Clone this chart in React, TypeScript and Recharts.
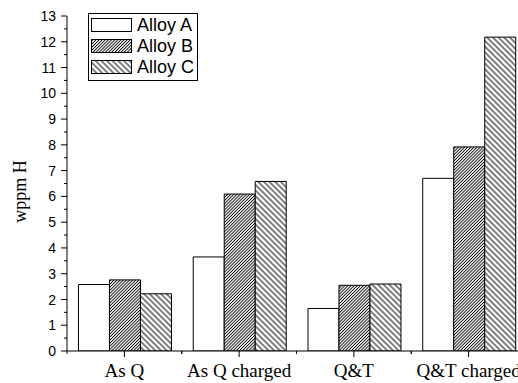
import React from 'react';
import { BarChart, Bar, XAxis, YAxis, Legend } from 'recharts';

const categories = ['As Q', 'As Q charged', 'Q&T', 'Q&T charged'];
const alloyA = [2.58, 3.65, 1.65, 6.7];
const alloyB = [2.76, 6.09, 2.55, 7.92];
const alloyC = [2.22, 6.58, 2.6, 12.18];
const seriesNames = ['Alloy A', 'Alloy B', 'Alloy C'];
const yTicks = [0, 0.5, 1, 1.5, 2, 2.5, 3, 3.5, 4, 4.5, 5, 5.5, 6, 6.5, 7, 7.5, 8, 8.5, 9, 9.5, 10, 10.5, 11, 11.5, 12, 12.5, 13];
const yLabel = 'wppm H';

const data = categories.map((c, i) => ({ name: c, A: alloyA[i], B: alloyB[i], C: alloyC[i] }));

const fills: Record<string, string> = { A: '#ffffff', B: 'url(#patB)', C: 'url(#patC)' };

const serif = "'Liberation Serif', 'Times New Roman', serif";
const sans = "'Liberation Sans', Arial, sans-serif";

const XTick = (props: any) => {
  const { x, y, payload } = props;
  const half = payload && payload.offset ? payload.offset : 0;
  return (
    <g>
      <line x1={x} x2={x} y1={y} y2={y + 6} stroke="#000" />
      <line x1={x - half} x2={x - half} y1={y} y2={y + 3} stroke="#000" />
      <line x1={x + half} x2={x + half} y1={y} y2={y + 3} stroke="#000" />
      <text x={x} y={y + 26} textAnchor="middle" fontFamily={serif} fontSize={19} fill="#000">
        {payload.value}
      </text>
    </g>
  );
};

const YTick = (props: any) => {
  const { x, y, payload } = props;
  const v = payload.value;
  const major = Number.isInteger(v);
  return (
    <g>
      <line x1={x - (major ? 6 : 3)} x2={x} y1={y} y2={y} stroke="#000" />
      {major && (
        <text x={x - 11} y={y} dy="0.36em" textAnchor="end" fontFamily={sans} fontSize={14} fill="#000">
          {v}
        </text>
      )}
    </g>
  );
};

const renderLegend = (props: any) => {
  const payload = props.payload || [];
  return (
    <div style={{ border: '1px solid #000', width: 108, height: 65, background: '#fff', paddingTop: 1, boxSizing: 'content-box' }}>
      {payload.map((p: any, i: number) => (
        <div key={i} style={{ height: 21, display: 'flex', alignItems: 'center' }}>
          <svg width={44} height={21} style={{ display: 'block' }}>
            <rect x={2.5} y={3.5} width={40} height={13} fill={fills[p.dataKey] || '#fff'} stroke="#000" strokeWidth={1} />
          </svg>
          <span style={{ fontFamily: sans, fontSize: 18, marginLeft: 4, lineHeight: '21px', color: '#000' }}>{p.value}</span>
        </div>
      ))}
    </div>
  );
};

const YLabel = (props: any) => {
  const vb = props.viewBox || {};
  const cy = (vb.y || 0) + (vb.height || 0) / 2 + 8;
  return (
    <text x={18} y={cy} transform={`rotate(-90, 18, ${cy})`} textAnchor="middle" fontFamily={serif} fontSize={18} fill="#000">
      {yLabel}
    </text>
  );
};

export default function App() {
  return (
    <div style={{ width: 518, height: 383, overflow: 'hidden', position: 'relative', background: '#fff' }}>
      <style>{'html,body{margin:0;padding:0;overflow:hidden;}'}</style>
      <svg width={0} height={0} style={{ position: 'absolute' }}>
        <defs>
          <pattern id="patB" patternUnits="userSpaceOnUse" width={2.2} height={2.2} patternTransform="rotate(45)">
            <rect x={0} y={0} width={2.2} height={2.2} fill="#fff" />
            <line x1={1.1} y1={0} x2={1.1} y2={2.2} stroke="#000" strokeWidth={0.9} />
          </pattern>
          <pattern id="patC" patternUnits="userSpaceOnUse" width={4} height={4} patternTransform="rotate(-45)">
            <rect x={0} y={0} width={4} height={4} fill="#fff" />
            <line x1={2} y1={0} x2={2} y2={4} stroke="#000" strokeWidth={1} />
          </pattern>
        </defs>
      </svg>
      <div style={{ position: 'absolute', left: 8, top: 8 }}>
        <BarChart
          width={530}
          height={375}
          data={data}
          margin={{ top: 8, right: 12, left: 0, bottom: 0 }}
          barCategoryGap="10%"
          barGap={0}
        >
          <XAxis
            dataKey="name"
            height={32}
            tickSize={0}
            tickMargin={0}
            tickLine={false}
            axisLine={{ stroke: '#000' }}
            tick={<XTick />}
            interval={0}
          />
          <YAxis
            domain={[0, 13]}
            ticks={yTicks}
            interval={0}
            width={59}
            tickSize={0}
            tickMargin={0}
            tickLine={false}
            axisLine={{ stroke: '#000' }}
            tick={<YTick />}
            allowDataOverflow
            label={<YLabel />}
          />
          <Legend
            layout="vertical"
            align="center"
            verticalAlign="middle"
            content={renderLegend}
            wrapperStyle={{ left: 80, top: 5, width: 110, height: 67 }}
          />
          <Bar dataKey="A" name={seriesNames[0]} fill={fills.A} stroke="#000" strokeWidth={1} isAnimationActive={false} />
          <Bar dataKey="B" name={seriesNames[1]} fill={fills.B} stroke="#000" strokeWidth={1} isAnimationActive={false} />
          <Bar dataKey="C" name={seriesNames[2]} fill={fills.C} stroke="#000" strokeWidth={1} isAnimationActive={false} />
        </BarChart>
      </div>
    </div>
  );
}
